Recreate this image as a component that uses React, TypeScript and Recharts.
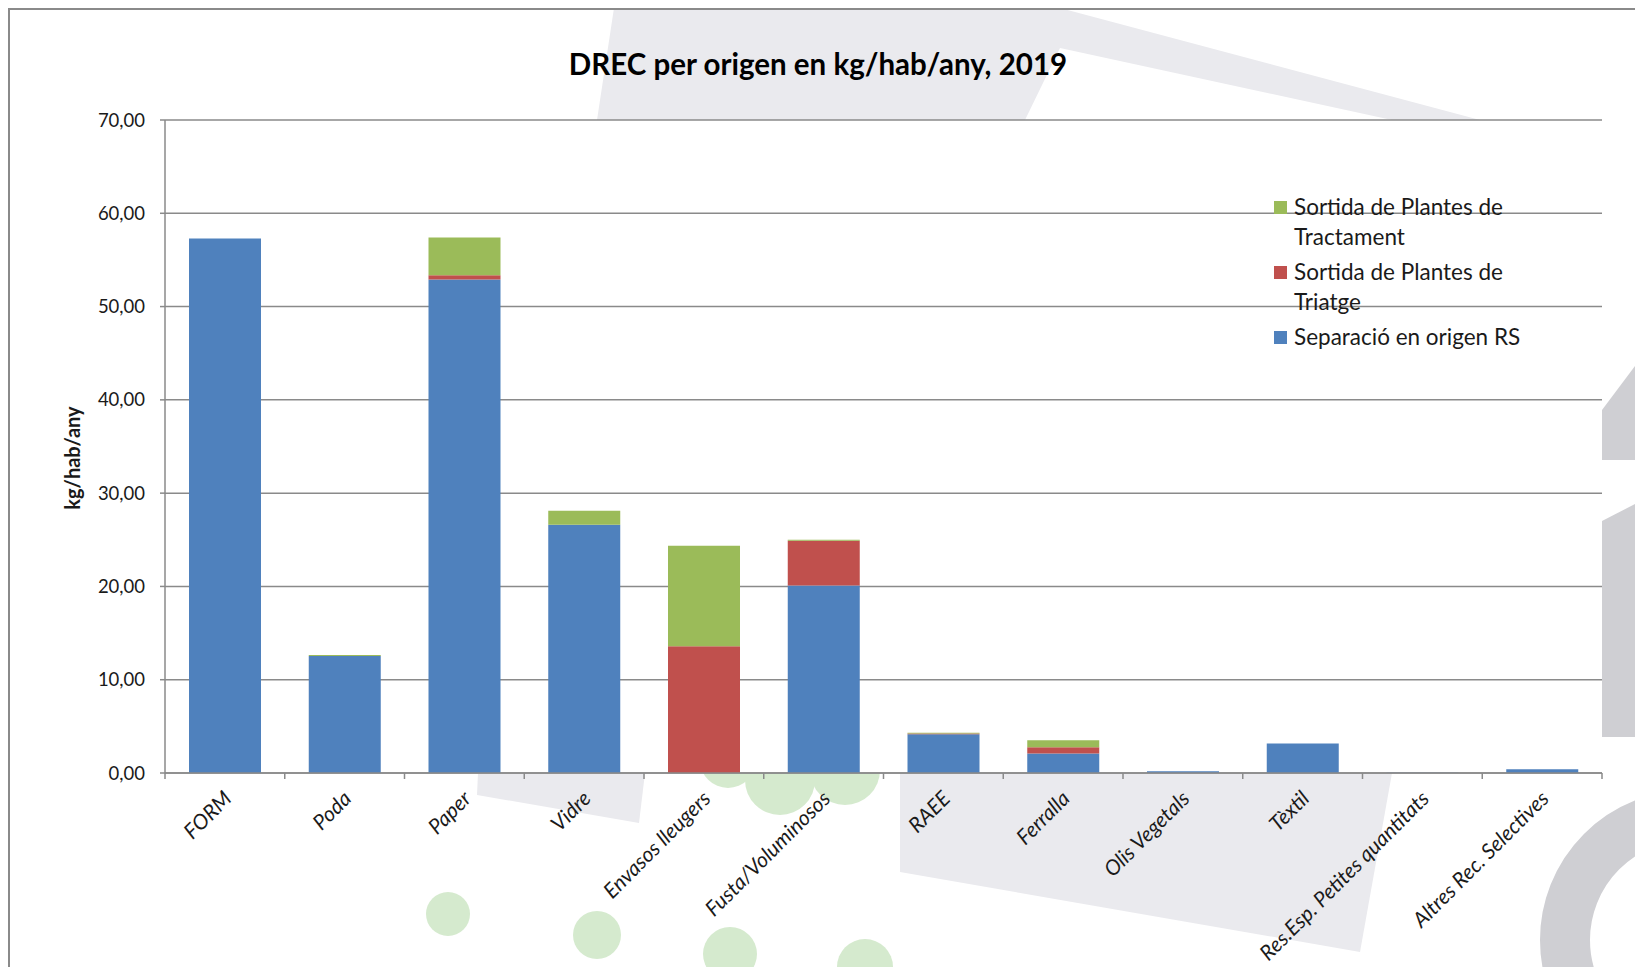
import React from 'react';
import { BarChart, Bar, XAxis, YAxis, CartesianGrid } from 'recharts';

const categories = [
  'FORM',
  'Poda',
  'Paper',
  'Vidre',
  'Envasos lleugers',
  'Fusta/Voluminosos',
  'RAEE',
  'Ferralla',
  'Olis Vegetals',
  'Tèxtil',
  'Res.Esp. Petites quantitats',
  'Altres Rec. Selectives',
];

// kg/hab/any
const separacio = [57.3, 12.55, 52.9, 26.6, 0, 20.1, 4.15, 2.1, 0.18, 3.15, 0.02, 0.4];
const triatge = [0, 0, 0.45, 0, 13.6, 4.8, 0.08, 0.65, 0, 0, 0, 0];
const tractament = [0, 0.1, 4.05, 1.5, 10.75, 0.1, 0.08, 0.75, 0, 0, 0, 0];

const yTicks = [0, 10, 20, 30, 40, 50, 60, 70];

const series = [
  { key: 'separacio', name: 'Separació en origen RS', color: '#4F81BD' },
  { key: 'triatge', name: 'Sortida de Plantes de Triatge', color: '#C0504D' },
  { key: 'tractament', name: 'Sortida de Plantes de Tractament', color: '#9BBB59' },
];

const data = categories.map((name, i) => ({
  name,
  separacio: separacio[i],
  triatge: triatge[i],
  tractament: tractament[i],
}));

const W = 1635;
const H = 967;
const PLOT = { left: 165, right: 1602, top: 120, bottom: 773 };
const BAND = (PLOT.right - PLOT.left) / categories.length;
const AXIS = '#8A8A8A';
const FONT = "Lato, 'Open Sans', sans-serif";
const TEXT = '#1A1A1A';

const fmt = (v: number) => v.toFixed(2).replace('.', ',');

const XTick = (props: any) => {
  const { x, payload, index } = props;
  const y = PLOT.bottom;
  const half = BAND / 2;
  const tx = x + 8;
  const ty = y + 27;
  return (
    <g>
      <line x1={x - half} x2={x - half} y1={y} y2={y + 6} stroke={AXIS} strokeWidth={1.5} />
      {index === categories.length - 1 && (
        <line x1={x + half} x2={x + half} y1={y} y2={y + 6} stroke={AXIS} strokeWidth={1.5} />
      )}
      <text
        x={tx}
        y={ty}
        textAnchor="end"
        transform={`rotate(-45, ${tx}, ${ty})`}
        fontStyle="italic"
        fontSize={21}
        fontFamily={FONT}
        fill={TEXT}
      >
        {payload.value}
      </text>
    </g>
  );
};

// faint logo watermark behind the chart
const Watermark = () => {
  const light = '#EAEAEE';
  const dark = '#CFCFD3';
  const green = '#D5EACE';
  return (
    <svg width={W} height={H} style={{ position: 'absolute', left: 0, top: 0 }}>
      <polygon points="614,8 1060,8 1480,120 1392,120 1060,48 1025,120 597,120" fill={light} />
      <polygon points="478,773 645,773 639,823 477,795" fill={light} />
      <polygon points="900,773 1392,773 1360,952 900,872" fill={light} />
      <polygon points="1602,410 1635,366 1635,460 1602,460" fill={dark} />
      <polygon points="1602,521 1635,504 1635,737 1602,737" fill={dark} />
      <circle cx={1690} cy={940} r={125} fill="none" stroke={dark} strokeWidth={50} />
      <circle cx={728} cy={760} r={28} fill={green} />
      <circle cx={780} cy={780} r={35} fill={green} />
      <circle cx={845} cy={770} r={35} fill={green} />
      <circle cx={448} cy={914} r={22} fill={green} />
      <circle cx={597} cy={935} r={24} fill={green} />
      <circle cx={730} cy={954} r={27} fill={green} />
      <circle cx={865} cy={967} r={28} fill={green} />
      <text
        x={72}
        y={458}
        textAnchor="middle"
        dominantBaseline="central"
        transform="rotate(-90, 72, 458)"
        fontSize={20}
        fontWeight="bold"
        fontFamily={FONT}
        fill={TEXT}
      >
        kg/hab/any
      </text>
    </svg>
  );
};

const ChartLegend = () => (
  <div
    style={{
      position: 'absolute',
      left: 1274,
      top: 192,
      fontFamily: FONT,
      fontSize: 22.5,
      lineHeight: '30px',
      color: TEXT,
    }}
  >
    {[...series].reverse().map((s) => (
      <div key={s.key} style={{ display: 'flex', alignItems: 'flex-start', marginBottom: 5 }}>
        <div style={{ width: 13, height: 13, marginTop: 9, marginRight: 7, background: s.color }} />
        <div style={{ width: 240 }}>{s.name}</div>
      </div>
    ))}
  </div>
);

export default function App() {
  return (
    <div style={{ position: 'absolute', left: 0, top: 0, width: W, height: H, overflow: 'hidden', background: '#fff' }}>
      <Watermark />
      <div
        style={{
          position: 'absolute',
          left: 8,
          top: 8,
          width: W,
          height: H,
          borderLeft: `2px solid ${AXIS}`,
          borderTop: `2px solid ${AXIS}`,
        }}
      />
      <div style={{ position: 'absolute', left: 0, top: 0 }}>
        <BarChart
          width={W}
          height={H}
          data={data}
          margin={{ top: PLOT.top, right: W - PLOT.right, bottom: H - PLOT.bottom - 1, left: PLOT.left - 1 }}
        >
          <CartesianGrid vertical={false} stroke={AXIS} strokeWidth={1.5} fill="#fff" fillOpacity={1} />
          <XAxis
            dataKey="name"
            interval={0}
            height={1}
            tickLine={false}
            axisLine={{ stroke: AXIS, strokeWidth: 1.5 }}
            tick={(p: any) => <XTick {...p} />}
          />
          <YAxis
            domain={[0, 70]}
            ticks={yTicks}
            width={1}
            tickSize={5}
            tickMargin={15}
            tickFormatter={fmt}
            axisLine={{ stroke: AXIS, strokeWidth: 1.5 }}
            tickLine={{ stroke: AXIS, strokeWidth: 1.5 }}
            tick={{ fontSize: 18.5, fill: TEXT, fontFamily: FONT }}
          />
          {series.map((s) => (
            <Bar
              key={s.key}
              dataKey={s.key}
              name={s.name}
              stackId="a"
              fill={s.color}
              barSize={72}
              isAnimationActive={false}
            />
          ))}
        </BarChart>
      </div>
      <div
        style={{
          position: 'absolute',
          left: 0,
          top: 44,
          width: 1636,
          textAlign: 'center',
          fontFamily: FONT,
          fontWeight: 'bold',
          fontSize: 29.5,
          lineHeight: '40px',
          color: '#000',
        }}
      >
        DREC per origen en kg/hab/any, 2019
      </div>
      <ChartLegend />
    </div>
  );
}
